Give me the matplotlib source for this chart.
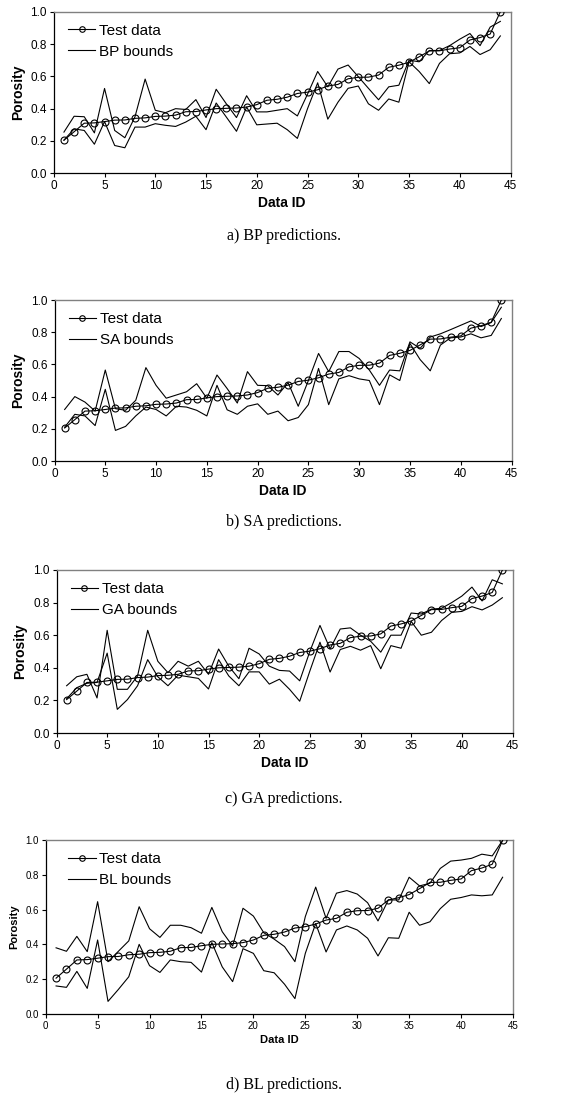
import numpy as np
import matplotlib
matplotlib.use("Agg")
import matplotlib.pyplot as plt

# porosity of the 44 test samples (same in every panel)
data_id = np.arange(1, 45)
test_data = [0.205, 0.257, 0.31, 0.312, 0.32, 0.329, 0.33, 0.34, 0.343, 0.352, 0.354, 0.36,
             0.381, 0.382, 0.392, 0.40, 0.402, 0.404, 0.41, 0.425, 0.452, 0.458, 0.471, 0.494,
             0.502, 0.517, 0.54, 0.55, 0.585, 0.594, 0.595, 0.608, 0.656, 0.669, 0.687, 0.721,
             0.757, 0.758, 0.769, 0.777, 0.825, 0.84, 0.862, 1.0]

# BP bounds
bp_upper = [0.255, 0.353, 0.35, 0.25, 0.525, 0.265, 0.22, 0.35, 0.583, 0.39, 0.375, 0.40,
            0.395, 0.456, 0.345, 0.52, 0.43, 0.345, 0.48, 0.38, 0.38, 0.39, 0.40, 0.355,
            0.49, 0.63, 0.535, 0.645, 0.67, 0.598, 0.526, 0.455, 0.535, 0.545, 0.70, 0.69,
            0.76, 0.76, 0.79, 0.83, 0.865, 0.79, 0.905, 0.94]
bp_lower = [0.205, 0.275, 0.265, 0.18, 0.32, 0.172, 0.158, 0.286, 0.286, 0.307, 0.297, 0.29,
            0.317, 0.353, 0.27, 0.435, 0.348, 0.26, 0.41, 0.30, 0.305, 0.31, 0.27, 0.216,
            0.40, 0.56, 0.335, 0.44, 0.526, 0.54, 0.43, 0.39, 0.46, 0.44, 0.69, 0.63,
            0.555, 0.68, 0.74, 0.745, 0.785, 0.735, 0.765, 0.85]

# SA bounds
sa_upper = [0.32, 0.40, 0.366, 0.31, 0.565, 0.325, 0.315, 0.377, 0.58, 0.47, 0.39, 0.41,
            0.43, 0.48, 0.39, 0.534, 0.45, 0.36, 0.555, 0.47, 0.468, 0.41, 0.487, 0.34,
            0.50, 0.668, 0.555, 0.68, 0.68, 0.637, 0.565, 0.47, 0.565, 0.56, 0.74, 0.70,
            0.77, 0.79, 0.816, 0.843, 0.87, 0.835, 0.86, 0.955]
sa_lower = [0.21, 0.29, 0.28, 0.22, 0.445, 0.19, 0.215, 0.28, 0.335, 0.32, 0.28, 0.34,
            0.335, 0.315, 0.28, 0.47, 0.318, 0.29, 0.34, 0.355, 0.29, 0.31, 0.25, 0.27,
            0.35, 0.575, 0.35, 0.51, 0.53, 0.51, 0.50, 0.35, 0.535, 0.50, 0.73, 0.63,
            0.56, 0.72, 0.765, 0.77, 0.79, 0.765, 0.78, 0.885]

# GA bounds
ga_upper = [0.29, 0.345, 0.36, 0.215, 0.63, 0.268, 0.268, 0.35, 0.63, 0.44, 0.37, 0.44,
            0.41, 0.44, 0.36, 0.515, 0.41, 0.333, 0.52, 0.485, 0.41, 0.384, 0.38, 0.32,
            0.50, 0.66, 0.516, 0.638, 0.645, 0.60, 0.563, 0.496, 0.60, 0.60, 0.736, 0.73,
            0.76, 0.765, 0.80, 0.84, 0.895, 0.81, 0.94, 0.915]
ga_lower = [0.21, 0.278, 0.305, 0.31, 0.49, 0.145, 0.205, 0.29, 0.45, 0.345, 0.29, 0.355,
            0.345, 0.335, 0.27, 0.45, 0.35, 0.29, 0.375, 0.375, 0.30, 0.33, 0.268, 0.195,
            0.38, 0.557, 0.374, 0.512, 0.532, 0.508, 0.536, 0.394, 0.536, 0.52, 0.685, 0.60,
            0.618, 0.69, 0.74, 0.746, 0.775, 0.755, 0.785, 0.83]

# BL bounds
bl_upper = [0.38, 0.36, 0.446, 0.358, 0.646, 0.30, 0.36, 0.42, 0.617, 0.49, 0.44, 0.51,
            0.51, 0.496, 0.464, 0.613, 0.473, 0.39, 0.608, 0.563, 0.467, 0.43, 0.387, 0.30,
            0.56, 0.73, 0.55, 0.695, 0.71, 0.69, 0.64, 0.535, 0.656, 0.656, 0.787, 0.737,
            0.752, 0.838, 0.88, 0.886, 0.896, 0.92, 0.91, 1.0]
bl_lower = [0.16, 0.152, 0.244, 0.146, 0.425, 0.071, 0.14, 0.213, 0.40, 0.277, 0.238, 0.31,
            0.30, 0.296, 0.24, 0.41, 0.27, 0.185, 0.375, 0.348, 0.248, 0.236, 0.17, 0.087,
            0.348, 0.52, 0.356, 0.483, 0.506, 0.483, 0.435, 0.333, 0.438, 0.435, 0.585, 0.51,
            0.53, 0.606, 0.66, 0.67, 0.685, 0.68, 0.685, 0.787]

methods = ["BP", "SA", "GA", "BL"]
captions = ["a) BP predictions.", "b) SA predictions.", "c) GA predictions.", "d) BL predictions."]
uppers = [bp_upper, sa_upper, ga_upper, bl_upper]
lowers = [bp_lower, sa_lower, ga_lower, bl_lower]

W, H = 568, 1097
fig = plt.figure(figsize=(W / 100, H / 100), dpi=100)
plt.rcParams['font.family'] = ['Liberation Sans', 'DejaVu Sans']

# pixel boxes of the plot areas: x0 (value 0), x45, top (1.0), bottom (0.0)
boxes = [(53.8, 510.5, 11.7, 173.3),
         (54.5, 511.5, 300.0, 461.0),
         (56.5, 512.5, 570.0, 733.0),
         (45.7, 513.0, 840.3, 1013.7)]
caption_y = [236, 522, 799, 1085]
legend_at = [(0.031, 0.925), (0.031, 0.925), (0.031, 0.925), (0.048, 0.93)]

for i in range(4):
    x0, x1, top, bot = boxes[i]
    ax = fig.add_axes([x0 / W, 1 - bot / H, (x1 - x0) / W, (bot - top) / H])
    small = (i == 3)
    tick_fs = 7 if small else 8.5
    lab_fs = 8 if small else 10

    ax.plot(data_id, test_data, color='black', lw=0.8, marker='o', ms=5,
            mfc='none', mec='black', mew=0.8, label='Test data', zorder=3)
    ax.plot(data_id, uppers[i], color='black', lw=0.8, label=methods[i] + ' bounds')
    ax.plot(data_id, lowers[i], color='black', lw=0.8)

    ax.set_xlim(0, 45)
    ax.set_ylim(0, 1.0)
    ax.set_xticks(np.arange(0, 46, 5))
    ax.set_yticks(np.arange(0, 1.01, 0.2))
    ax.set_yticklabels(['%.1f' % v for v in np.arange(0, 1.01, 0.2)])
    ax.tick_params(direction='out', length=3, width=0.8, labelsize=tick_fs, pad=2)
    for s in ['left', 'bottom']:
        ax.spines[s].set_color('black')
        ax.spines[s].set_linewidth(0.9)
    for s in ['top', 'right']:
        ax.spines[s].set_color('#808080')
        ax.spines[s].set_linewidth(1.0)

    ax.set_xlabel('Data ID', fontsize=lab_fs, fontweight='bold', labelpad=3)
    ax.set_ylabel('Porosity', fontsize=lab_fs, fontweight='bold', labelpad=4)

    ax.legend(loc='upper left', bbox_to_anchor=legend_at[i], frameon=False,
              fontsize=11, handlelength=1.8, handletextpad=0.25, labelspacing=0.45,
              borderpad=0, borderaxespad=0, markerscale=0.8)

    fig.text(0.5, 1 - caption_y[i] / H, captions[i], ha='center', va='center',
             fontsize=11.5, family='Liberation Serif')

fig.savefig('out.png', dpi=100)
